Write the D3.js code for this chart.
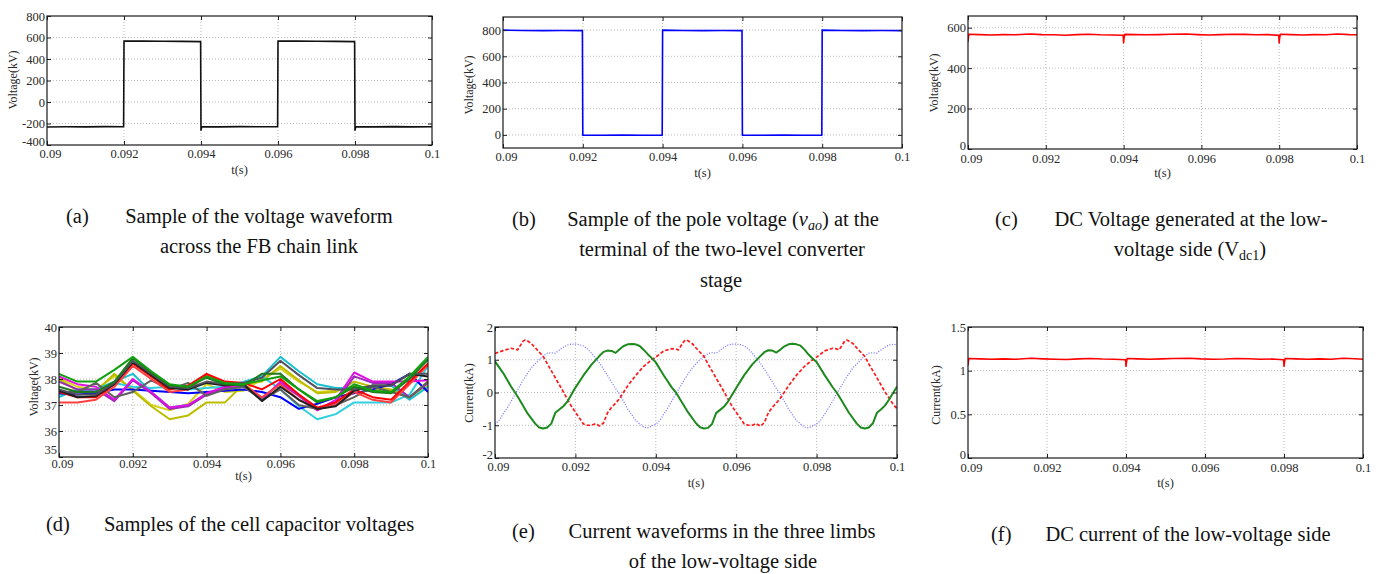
<!DOCTYPE html>
<html><head><meta charset="utf-8">
<script src="https://cdn.jsdelivr.net/npm/d3@7"></script>
<style>
body{margin:0;background:#fff}
svg{display:block}
text{font-family:"Liberation Serif","Times New Roman",serif}
</style>
</head><body>
<svg id="chart" width="1387" height="574"></svg>
<script>
// ---------- shared axis data ----------
const xTicks = [0.09, 0.092, 0.094, 0.096, 0.098, 0.1];
const xTickLabels = ["0.09", "0.092", "0.094", "0.096", "0.098", "0.1"];

// ---------- (a) FB chain link voltage ----------
const aTicks = [-400, -200, 0, 200, 400, 600, 800];
const aTickLabels = ["-400", "-200", "0", "200", "400", "600", "800"];
const aTime = [0.09, 0.0905, 0.091, 0.0915, 0.09199, 0.092, 0.0925, 0.093, 0.0935, 0.09399, 0.094, 0.09402, 0.0945, 0.095, 0.0955, 0.09599, 0.096, 0.0965, 0.097, 0.0975, 0.09799, 0.098, 0.09802, 0.0985, 0.099, 0.0995, 0.1];
const aVolt = [-232, -230, -231, -229, -230, 567, 566, 565, 564, 562, -262, -230, -231, -229, -230, -230, 567, 566, 565, 564, 562, -262, -230, -231, -229, -231, -230];

// ---------- (b) pole voltage ----------
const bTicks = [0, 200, 400, 600, 800];
const bTickLabels = ["0", "200", "400", "600", "800"];
const bTime = [0.09, 0.0905, 0.091, 0.0915, 0.09199, 0.092, 0.0925, 0.093, 0.0935, 0.09399, 0.094, 0.0945, 0.095, 0.0955, 0.09599, 0.096, 0.0965, 0.097, 0.0975, 0.09799, 0.098, 0.0985, 0.099, 0.0995, 0.1];
const bVolt = [800, 797, 796, 797, 796, -2, -3, -2, -3, -2, 800, 797, 796, 797, 796, -2, -3, -2, -3, -2, 800, 797, 796, 797, 796];

// ---------- (c) DC voltage low-voltage side ----------
const cTicks = [0, 200, 400, 600];
const cTickLabels = ["0", "200", "400", "600"];
const cTime = [0.09, 0.09002, 0.0903, 0.0906, 0.0909, 0.0912, 0.0916, 0.0919, 0.0922, 0.0925, 0.0928, 0.0931, 0.0934, 0.0937, 0.09399, 0.094, 0.09401, 0.09403, 0.0943, 0.0946, 0.0949, 0.0952, 0.0956, 0.0959, 0.0962, 0.0965, 0.0968, 0.0971, 0.0974, 0.0977, 0.09799, 0.098, 0.09801, 0.09803, 0.0983, 0.0986, 0.0989, 0.0992, 0.0995, 0.0998, 0.1];
const cVolt = [530, 568, 566, 564, 566, 565, 569, 566, 565, 563, 566, 568, 565, 564, 563, 526, 548, 567, 566, 565, 566, 568, 569, 566, 564, 566, 568, 567, 565, 566, 562, 525, 548, 568, 566, 564, 566, 565, 569, 566, 565];

// ---------- (d) cell capacitor voltages ----------
const dTicks = [35, 36, 37, 38, 39, 40];
const dTickLabels = ["35", "36", "37", "38", "39", "40"];
const dTime = [0.09, 0.0905, 0.091, 0.0915, 0.092, 0.0925, 0.093, 0.0935, 0.094, 0.0945, 0.095, 0.0955, 0.096, 0.0965, 0.097, 0.0975, 0.098, 0.0985, 0.099, 0.0995, 0.1];
const dGreen     = [38.2, 37.9, 37.9, 38.35, 38.85, 38.3, 37.8, 37.7, 38.1, 37.85, 37.8, 37.95, 38.1, 37.6, 37.15, 37.3, 37.8, 37.55, 37.5, 38.1, 38.85];
const dDarkGreen = [37.7, 37.5, 37.5, 37.9, 38.8, 38.25, 37.75, 37.7, 38.05, 37.8, 37.75, 38.2, 38.2, 37.6, 37.1, 37.3, 37.7, 37.5, 37.45, 38.0, 38.75];
const dRed       = [37.5, 37.3, 37.3, 37.8, 38.6, 38.1, 37.6, 37.75, 38.2, 37.9, 37.85, 37.6, 38.0, 37.4, 36.9, 37.1, 37.6, 37.3, 37.2, 37.9, 38.6];
const dRed2      = [37.1, 37.1, 37.2, 37.7, 38.5, 38.0, 37.5, 37.6, 38.15, 37.85, 37.8, 37.3, 37.8, 37.2, 36.85, 37.0, 37.5, 37.2, 37.1, 37.8, 38.55];
const dGrey      = [37.6, 37.4, 37.4, 37.85, 38.7, 38.2, 37.7, 37.65, 37.9, 37.8, 37.85, 38.05, 38.7, 38.15, 37.65, 37.6, 37.6, 37.75, 37.75, 38.2, 38.2];
const dGrey2     = [37.5, 37.5, 37.85, 37.3, 37.5, 37.95, 37.6, 37.85, 37.35, 37.6, 37.7, 37.2, 37.6, 37.0, 36.85, 37.0, 37.3, 37.7, 37.5, 37.3, 37.9];
const dMagenta   = [38.1, 37.8, 37.7, 37.2, 38.0, 37.5, 36.9, 37.0, 37.45, 37.7, 37.75, 37.2, 37.9, 37.4, 36.8, 37.2, 38.25, 37.9, 37.9, 37.9, 37.95];
const dPurple    = [37.9, 37.6, 37.6, 37.15, 37.95, 37.45, 36.85, 36.95, 37.4, 37.65, 37.7, 37.25, 37.85, 37.35, 36.8, 37.1, 38.1, 37.85, 37.85, 37.3, 37.85];
const dCyan      = [37.3, 37.6, 37.6, 37.9, 38.2, 37.5, 36.9, 37.0, 37.4, 37.6, 37.8, 38.1, 38.85, 38.3, 37.8, 37.65, 37.65, 37.7, 37.75, 37.2, 37.7];
const dCyan2     = [37.4, 37.55, 37.55, 37.85, 37.7, 37.65, 37.7, 37.6, 37.65, 37.7, 37.9, 38.1, 37.6, 36.95, 36.45, 36.65, 37.1, 37.1, 37.1, 37.4, 38.5];
const dYellow    = [38.0, 37.55, 37.5, 38.2, 37.55, 36.95, 36.45, 36.6, 37.1, 37.1, 37.8, 37.9, 38.5, 37.95, 37.45, 37.5, 37.9, 37.7, 37.6, 37.3, 37.9];
const dYellow2   = [38.05, 37.7, 37.6, 38.1, 37.6, 37.0, 36.8, 37.05, 37.8, 37.5, 37.55, 38.0, 38.4, 37.9, 37.5, 37.55, 37.75, 37.6, 37.55, 37.25, 37.75];
const dBlue      = [37.45, 37.4, 37.45, 37.6, 37.6, 37.55, 37.5, 37.45, 37.5, 37.55, 37.6, 37.5, 37.3, 36.85, 37.05, 37.3, 37.45, 37.6, 37.8, 38.2, 37.5];
const dBlack     = [37.55, 37.3, 37.35, 37.8, 38.65, 38.15, 37.65, 37.6, 37.85, 37.75, 37.8, 37.15, 37.7, 37.2, 36.85, 36.95, 37.55, 37.75, 37.75, 38.2, 38.1];

// ---------- (e) limb currents ----------
const eTicks = [-2, -1, 0, 1, 2];
const eTickLabels = ["-2", "-1", "0", "1", "2"];
const eGreen = [[0.0900,0.95],[0.0902,0.6],[0.0904,0.18],[0.0905,0.0],[0.0906,-0.2],[0.0908,-0.62],[0.0910,-0.95],[0.0911,-1.07],[0.0912,-1.1],[0.0913,-1.07],[0.0914,-0.95],[0.0915,-0.62],[0.0916,-0.52],[0.0917,-0.42],[0.0918,-0.28],[0.0920,0.15],[0.0922,0.52],[0.0924,0.85],[0.0926,1.12],[0.0927,1.24],[0.0928,1.28],[0.0929,1.27],[0.0930,1.21],[0.0931,1.32],[0.0932,1.42],[0.0933,1.47],[0.0934,1.48],[0.0935,1.47],[0.0936,1.42],[0.0937,1.3],[0.0938,1.17],[0.0939,1.05],[0.0940,0.92],[0.0942,0.52],[0.0944,0.15],[0.0945,0.0],
  [0.0946,-0.2],[0.0948,-0.6],[0.0950,-0.94],[0.0951,-1.06],[0.0952,-1.1],[0.0953,-1.08],[0.0954,-0.96],[0.0955,-0.63],[0.0956,-0.53],[0.0957,-0.43],[0.0958,-0.27],[0.0960,0.14],[0.0962,0.53],[0.0964,0.86],[0.0966,1.11],[0.0967,1.23],[0.0968,1.29],[0.0969,1.28],[0.0970,1.22],[0.0971,1.31],[0.0972,1.41],[0.0973,1.47],[0.0974,1.49],[0.0975,1.47],[0.0976,1.43],[0.0977,1.31],[0.0978,1.16],[0.0979,1.04],[0.0980,0.93],[0.0982,0.53],[0.0984,0.16],[0.0985,0.0],
  [0.0986,-0.2],[0.0988,-0.61],[0.0990,-0.95],[0.0991,-1.07],[0.0992,-1.1],[0.0993,-1.07],[0.0994,-0.94],[0.0995,-0.62],[0.0996,-0.52],[0.0997,-0.4],[0.0998,-0.22],[0.1000,0.18]];
const eRed = [[0.0900,1.19],[0.0902,1.28],[0.0904,1.35],[0.0905,1.32],[0.09056,1.3],[0.0907,1.57],[0.09075,1.6],[0.0908,1.58],[0.0909,1.5],[0.0910,1.37],[0.0912,1.1],[0.0913,0.88],[0.0915,0.45],[0.0917,0.02],[0.0919,-0.42],[0.0921,-0.78],[0.0922,-0.96],[0.0923,-1.0],[0.0924,-1.0],[0.0925,-0.95],[0.0926,-1.02],[0.0927,-0.93],[0.0928,-0.62],[0.0929,-0.45],[0.0930,-0.33],[0.0931,-0.18],[0.0933,0.2],[0.0935,0.52],[0.0937,0.8],[0.0939,1.0],[0.0940,1.08],
  [0.0942,1.27],[0.0944,1.34],[0.0945,1.33],[0.09456,1.3],[0.0947,1.56],[0.09475,1.61],[0.0948,1.58],[0.0949,1.5],[0.0950,1.36],[0.0952,1.1],[0.0953,0.87],[0.0955,0.44],[0.0957,0.02],[0.0959,-0.43],[0.0961,-0.78],[0.0962,-0.96],[0.0963,-1.0],[0.0964,-1.0],[0.0965,-0.95],[0.0966,-1.03],[0.0967,-0.92],[0.0968,-0.62],[0.0969,-0.45],[0.0970,-0.32],[0.0971,-0.17],[0.0973,0.2],[0.0975,0.53],[0.0977,0.8],[0.0979,1.0],[0.0980,1.08],
  [0.0982,1.27],[0.0984,1.35],[0.0985,1.33],[0.09856,1.3],[0.0987,1.57],[0.09875,1.6],[0.0988,1.57],[0.0989,1.5],[0.0990,1.36],[0.0992,1.1],[0.0993,0.87],[0.0995,0.45],[0.0997,0.02],[0.0999,-0.35],[0.1000,-0.5]];
const eBlue = [[0.0900,-0.97],[0.0901,-0.85],[0.0903,-0.48],[0.0905,-0.05],[0.0907,0.38],[0.0909,0.75],[0.0911,1.0],[0.0912,1.12],[0.0913,1.2],[0.0914,1.21],[0.0915,1.2],[0.0916,1.3],[0.0917,1.38],[0.0918,1.45],[0.0919,1.48],[0.0920,1.48],[0.0921,1.46],[0.0922,1.42],[0.0923,1.33],[0.0924,1.2],[0.0926,0.9],[0.0928,0.52],[0.0930,0.12],[0.0931,-0.05],[0.0933,-0.5],[0.0935,-0.86],[0.0937,-1.06],[0.0938,-1.08],[0.0939,-1.02],[0.0940,-0.97],
  [0.0941,-0.85],[0.0943,-0.47],[0.0945,-0.04],[0.0947,0.37],[0.0949,0.74],[0.0951,1.0],[0.0952,1.11],[0.0953,1.19],[0.0954,1.21],[0.0955,1.2],[0.0956,1.29],[0.0957,1.38],[0.0958,1.45],[0.0959,1.48],[0.0960,1.48],[0.0961,1.46],[0.0962,1.42],[0.0963,1.33],[0.0964,1.2],[0.0966,0.9],[0.0968,0.52],[0.0970,0.12],[0.0971,-0.05],[0.0973,-0.5],[0.0975,-0.86],[0.0977,-1.06],[0.0978,-1.08],[0.0979,-1.02],[0.0980,-0.97],
  [0.0981,-0.85],[0.0983,-0.47],[0.0985,-0.04],[0.0987,0.38],[0.0989,0.75],[0.0991,1.0],[0.0992,1.12],[0.0993,1.2],[0.0994,1.21],[0.0995,1.2],[0.0996,1.3],[0.0997,1.38],[0.0998,1.45],[0.0999,1.47],[0.1000,1.46]];

// ---------- (f) DC current ----------
const fTicks = [0, 0.5, 1, 1.5];
const fTickLabels = ["0", "0.5", "1", "1.5"];
const fTime = [0.09, 0.09002, 0.0903, 0.0906, 0.0909, 0.0912, 0.0916, 0.0919, 0.0922, 0.0925, 0.0928, 0.0931, 0.0934, 0.0937, 0.09399, 0.094, 0.09401, 0.09403, 0.0943, 0.0946, 0.0949, 0.0952, 0.0956, 0.0959, 0.0962, 0.0965, 0.0968, 0.0971, 0.0974, 0.0977, 0.09799, 0.098, 0.09801, 0.09803, 0.0983, 0.0986, 0.0989, 0.0992, 0.0995, 0.0998, 0.1];
const fCurr = [1.06, 1.14, 1.135, 1.13, 1.135, 1.13, 1.142, 1.135, 1.13, 1.128, 1.135, 1.14, 1.133, 1.13, 1.125, 1.05, 1.09, 1.14, 1.135, 1.13, 1.135, 1.14, 1.143, 1.135, 1.13, 1.133, 1.14, 1.137, 1.13, 1.133, 1.125, 1.05, 1.09, 1.14, 1.135, 1.13, 1.135, 1.13, 1.143, 1.136, 1.13];

// ---------- helpers ----------
const svg = d3.select("#chart");
let clipId = 0;

function panel(p) {
  const g = svg.append("g");
  const x = d3.scaleLinear().domain([0.09, 0.1]).range([p.l, p.r]);
  const y = d3.scaleLinear().domain(p.yDom).range([p.b, p.t]);
  const id = "clip" + (clipId++);
  g.append("clipPath").attr("id", id).append("rect")
    .attr("x", p.l).attr("y", p.t).attr("width", p.r - p.l).attr("height", p.b - p.t);

  // grid
  g.append("g").selectAll("line").data(xTicks.slice(1, -1)).join("line")
    .attr("x1", d => x(d)).attr("x2", d => x(d)).attr("y1", p.t).attr("y2", p.b)
    .attr("stroke", "#a8a8a8").attr("stroke-width", 0.8).attr("stroke-dasharray", "1,2");
  g.append("g").selectAll("line").data(p.yTicks.filter(v => v > p.yDom[0] && v < p.yDom[1])).join("line")
    .attr("x1", p.l).attr("x2", p.r).attr("y1", d => y(d)).attr("y2", d => y(d))
    .attr("stroke", "#a8a8a8").attr("stroke-width", 0.8).attr("stroke-dasharray", "1,2");

  // series
  const sg = g.append("g").attr("clip-path", `url(#${id})`);
  p.series.forEach(s => {
    const line = d3.line().x(d => x(d[0])).y(d => y(d[1]));
    sg.append("path").attr("d", line(s.pts)).attr("fill", "none")
      .attr("stroke", s.color).attr("stroke-width", s.w || 1.5)
      .attr("stroke-dasharray", s.dash || null)
      .attr("stroke-linejoin", "round").attr("stroke-linecap", s.cap || "butt");
  });

  // axes (inward ticks, MATLAB box)
  const fmtX = (d, i) => xTickLabels[i];
  const fmtY = (d, i) => p.yTickLabels[i];
  const bottom = g.append("g").attr("transform", `translate(0,${p.b})`)
    .call(d3.axisBottom(x).tickValues(xTicks).tickFormat(fmtX).tickSizeInner(-4).tickSizeOuter(0).tickPadding(p.xPad));
  const top = g.append("g").attr("transform", `translate(0,${p.t})`)
    .call(d3.axisTop(x).tickValues(xTicks).tickFormat("").tickSizeInner(-4).tickSizeOuter(0));
  const left = g.append("g").attr("transform", `translate(${p.l},0)`)
    .call(d3.axisLeft(y).tickValues(p.yTicks).tickFormat(fmtY).tickSizeInner(-4).tickSizeOuter(0).tickPadding(2));
  const right = g.append("g").attr("transform", `translate(${p.r},0)`)
    .call(d3.axisRight(y).tickValues(p.yTicks).tickFormat("").tickSizeInner(-4).tickSizeOuter(0));
  [bottom, top, left, right].forEach(a => {
    a.select(".domain").remove();
    a.selectAll("line").attr("stroke", "#222");
    a.selectAll("text").attr("font-family", "Liberation Serif, Times New Roman, serif")
      .attr("font-size", 12.5).attr("fill", "#2a2a2a");
  });
  // lift the lowest y label slightly so it does not sit on the first x label
  left.selectAll(".tick text").filter((d, i) => i === 0).attr("dy", p.lowDy || "0.1em");
  // shift first x label a touch right of the corner
  bottom.selectAll(".tick text").filter((d, i) => i === 0).attr("dx", 3);

  // frame
  g.append("rect").attr("x", p.l).attr("y", p.t).attr("width", p.r - p.l).attr("height", p.b - p.t)
    .attr("fill", "none").attr("stroke", "#1a1a1a").attr("stroke-width", 1.2);

  // labels
  g.append("text").attr("x", (p.l + p.r) / 2).attr("y", p.tY).attr("text-anchor", "middle")
    .attr("font-size", 12.5).attr("fill", "#2a2a2a").text("t(s)");
  g.append("text").attr("transform", `translate(${p.yLx},${p.yLy}) rotate(-90)`).attr("text-anchor", "middle")
    .attr("font-size", 12).attr("fill", "#2a2a2a").text(p.yLabel);
}

function caption(labelX, label, lines) {
  const g = svg.append("g").attr("font-size", 20.5).attr("fill", "#111");
  g.append("text").attr("x", labelX).attr("y", lines[0].y).text(label);
  lines.forEach(L => {
    const t = g.append("text").attr("x", L.cx).attr("y", L.y).attr("text-anchor", "middle");
    L.parts.forEach(pt => {
      const ts = t.append("tspan").text(pt.s);
      if (pt.it) ts.attr("font-style", "italic");
      if (pt.sub) ts.attr("font-size", 14).attr("dy", 4);
      if (pt.up) ts.attr("dy", -4);
    });
  });
}

const toPts = (ts, vs) => ts.map((t, i) => [t, vs[i]]);

// ---------- panels ----------
panel({l: 47, r: 432, t: 16, b: 145, yDom: [-400, 800], yTicks: aTicks, yTickLabels: aTickLabels,
  xPad: 4, tY: 174, yLx: 17, yLy: 80, yLabel: "Voltage(kV)", lowDy: "0.05em",
  series: [{pts: toPts(aTime, aVolt), color: "#111", w: 1.6}]});

panel({l: 503, r: 902, t: 17, b: 148, yDom: [-100, 900], yTicks: bTicks, yTickLabels: bTickLabels,
  xPad: 4, tY: 177, yLx: 473, yLy: 85, yLabel: "Voltage(kV)", lowDy: "0.32em",
  series: [{pts: toPts(bTime, bVolt), color: "#0000ff", w: 1.6}]});

panel({l: 968, r: 1357, t: 16, b: 149, yDom: [0, 658], yTicks: cTicks, yTickLabels: cTickLabels,
  xPad: 5, tY: 177, yLx: 938, yLy: 83, yLabel: "Voltage(kV)", lowDy: "0em",
  series: [{pts: toPts(cTime, cVolt), color: "#ff0000", w: 1.6}]});

const dSeries = [
  {v: dYellow2, c: "#d4d41c"}, {v: dYellow, c: "#bdbd00"}, {v: dCyan2, c: "#2ecfe0"}, {v: dCyan, c: "#18c0d0"},
  {v: dBlue, c: "#0000ff"}, {v: dPurple, c: "#9c2ab8"}, {v: dMagenta, c: "#e010e0"}, {v: dGrey2, c: "#606060"},
  {v: dRed2, c: "#ff4040"}, {v: dRed, c: "#ff0000"}, {v: dBlack, c: "#202020"}, {v: dGrey, c: "#505060"},
  {v: dDarkGreen, c: "#1d7a1d"}, {v: dGreen, c: "#10a010"}
];
panel({l: 59, r: 428, t: 327, b: 457, yDom: [35, 40], yTicks: dTicks, yTickLabels: dTickLabels,
  xPad: 2, tY: 480, yLx: 38, yLy: 387, yLabel: "Voltage(kV)", lowDy: "-0.25em",
  series: dSeries.map(s => ({pts: toPts(dTime, s.v), color: s.c, w: 2}))});

panel({l: 495, r: 897, t: 327, b: 458, yDom: [-2, 2], yTicks: eTicks, yTickLabels: eTickLabels,
  xPad: 4, tY: 487, yLx: 473, yLy: 393, yLabel: "Current(kA)", lowDy: "0.05em",
  series: [
    {pts: eBlue, color: "#6b6bff", w: 1.2, dash: "1,1.6"},
    {pts: eRed, color: "#ff1a1a", w: 1.7, dash: "3.5,2"},
    {pts: eGreen, color: "#1e8a1e", w: 2}
  ]});

panel({l: 968, r: 1363, t: 327, b: 458, yDom: [0, 1.5], yTicks: fTicks, yTickLabels: fTickLabels,
  xPad: 5, tY: 487, yLx: 940, yLy: 395, yLabel: "Current(kA)", lowDy: "0em",
  series: [{pts: toPts(fTime, fCurr), color: "#ff0000", w: 1.6}]});

// ---------- captions ----------
caption(66, "(a)", [
  {cx: 259, y: 223, parts: [{s: "Sample of the voltage waveform"}]},
  {cx: 259, y: 253, parts: [{s: "across the FB chain link"}]}
]);
caption(512, "(b)", [
  {cx: 723, y: 226, parts: [{s: "Sample of the pole voltage ("}, {s: "v", it: true}, {s: "ao", it: true, sub: true}, {s: ") at the", up: true}]},
  {cx: 722, y: 256, parts: [{s: "terminal of the two-level converter"}]},
  {cx: 721, y: 287, parts: [{s: "stage"}]}
]);
caption(995, "(c)", [
  {cx: 1191, y: 226, parts: [{s: "DC Voltage generated at the low-"}]},
  {cx: 1190, y: 256, parts: [{s: "voltage side (V"}, {s: "dc1", sub: true}, {s: ")", up: true}]}
]);
caption(46, "(d)", [
  {cx: 259, y: 531, parts: [{s: "Samples of the cell capacitor voltages"}]}
]);
caption(512, "(e)", [
  {cx: 722, y: 538, parts: [{s: "Current waveforms in the three limbs"}]},
  {cx: 723, y: 568, parts: [{s: "of the low-voltage side"}]}
]);
caption(991, "(f)", [
  {cx: 1188, y: 541, parts: [{s: "DC current of the low-voltage side"}]}
]);
</script>
</body></html>
